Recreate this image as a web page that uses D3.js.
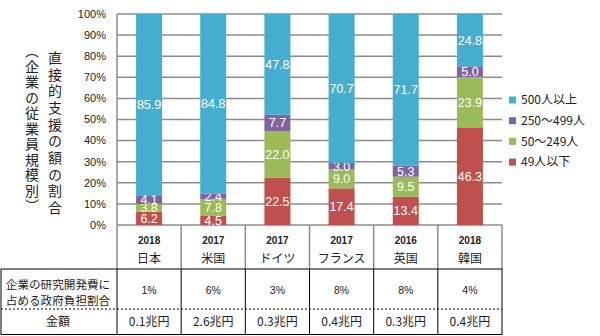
<!DOCTYPE html>
<html><head><meta charset="utf-8">
<script src="https://cdn.jsdelivr.net/npm/d3@7"></script>
<style>body{margin:0;background:#fff} svg{display:block}</style>
</head><body><svg id="c" width="600" height="336"></svg>
<script>
const countries = ["日本","米国","ドイツ","フランス","英国","韓国"];
const years = ["2018","2017","2017","2017","2016","2018"];
const seriesNames = ["49人以下","50～249人","250～499人","500人以上"];
const s49 = [6.2,4.5,22.5,17.4,13.4,46.3];
const s50 = [3.8,7.8,22.0,9.0,9.5,23.9];
const s250 = [4.1,2.4,7.7,3.0,5.3,5.0];
const s500 = [85.9,84.8,47.8,70.7,71.7,24.8];
const govShare = ["1%","6%","3%","8%","8%","4%"];
const amounts = ["0.1兆円","2.6兆円","0.3兆円","0.4兆円","0.3兆円","0.4兆円"];
const yTicks = [0,10,20,30,40,50,60,70,80,90,100];
const colors = ["#C0504D","#9BBB59","#8064A2","#45AED0"];

const svg = d3.select("#c");
const L = 117, R = 502, T = 14, B = 225;
const x = d3.scaleBand().domain(countries).range([L, R]).paddingInner(0.595).paddingOuter(0.2975);
const y = d3.scaleLinear().domain([0, 1]).range([B, T]);
const jp = "'Noto Sans CJK JP', sans-serif";
const lat = "'Liberation Sans', Arial, sans-serif";

const rows = countries.map((c, i) => ({c, v0: s49[i], v1: s50[i], v2: s250[i], v3: s500[i]}));
const stack = d3.stack().keys(["v0","v1","v2","v3"]).offset(d3.stackOffsetExpand);
const layers = stack(rows);

// gridlines
svg.append("g").selectAll("line").data(yTicks).join("line")
  .attr("x1", L).attr("x2", R)
  .attr("y1", d => y(d/100)).attr("y2", d => y(d/100))
  .attr("stroke", "#8c8c8c").attr("stroke-width", 1.5);

// tick labels
svg.append("g").selectAll("text").data(yTicks).join("text")
  .attr("x", 106).attr("y", d => y(d/100)).attr("dy", "0.35em")
  .attr("text-anchor", "end").attr("font-family", lat).attr("font-size", 11)
  .attr("fill", "#222").text(d => d + "%");

// bars
const bw = 26;
layers.forEach((layer, k) => {
  const g = svg.append("g");
  g.selectAll("rect").data(layer).join("rect")
    .attr("x", d => x(d.data.c) + x.bandwidth()/2 - bw/2)
    .attr("width", bw)
    .attr("y", d => y(d[1]))
    .attr("height", d => y(d[0]) - y(d[1]))
    .attr("fill", colors[k]);
  g.selectAll("text").data(layer).join("text")
    .attr("x", d => x(d.data.c) + x.bandwidth()/2)
    .attr("y", d => (y(d[0]) + y(d[1]))/2).attr("dy", "0.36em")
    .attr("text-anchor", "middle").attr("font-family", lat).attr("font-size", 12.5)
    .attr("fill", "#fff")
    .text(d => d.data[layer.key].toFixed(1));
});

// left axis line
svg.append("line").attr("x1", L).attr("x2", L).attr("y1", T).attr("y2", 269)
  .attr("stroke", "#8c8c8c").attr("stroke-width", 1.5);

// category separators
const bounds = countries.map(c => x(c) - x.step()*x.paddingInner()/2 ).concat([R]);
svg.append("g").selectAll("line").data(bounds.slice(1)).join("line")
  .attr("x1", d => d).attr("x2", d => d).attr("y1", B).attr("y2", 269)
  .attr("stroke", "#8c8c8c").attr("stroke-width", 1.5);

// category labels
svg.append("g").selectAll("text").data(years).join("text")
  .attr("x", (d, i) => x(countries[i]) + x.bandwidth()/2).attr("y", 240).attr("dy", "0.35em")
  .attr("text-anchor", "middle").attr("font-family", lat).attr("font-weight", "bold")
  .attr("font-size", 10).attr("fill", "#222").text(d => d);
svg.append("g").selectAll("text").data(countries).join("text")
  .attr("x", d => x(d) + x.bandwidth()/2).attr("y", 259).attr("dy", "0.35em")
  .attr("text-anchor", "middle").attr("font-family", jp)
  .attr("font-size", 12).attr("fill", "#222").text(d => d);

// table
const tb = svg.append("g");
tb.append("rect").attr("x", 1).attr("y", 269).attr("width", R - 1).attr("height", 65.5)
  .attr("fill", "none").attr("stroke", "#000").attr("stroke-width", 1);
tb.append("line").attr("x1", 1).attr("x2", R).attr("y1", 309).attr("y2", 309)
  .attr("stroke", "#000").attr("stroke-dasharray", "2,2");
tb.selectAll("line.v").data([L].concat(bounds.slice(1, 6))).join("line").attr("class","v")
  .attr("x1", d => d).attr("x2", d => d).attr("y1", 269).attr("y2", 334.5)
  .attr("stroke", "#000").attr("stroke-width", 1);
tb.append("text").attr("x", 58).attr("y", 285).attr("dy", "0.35em").attr("text-anchor", "middle")
  .attr("font-family", jp).attr("font-size", 11.6).attr("fill", "#222").text("企業の研究開発費に");
tb.append("text").attr("x", 58).attr("y", 301).attr("dy", "0.35em").attr("text-anchor", "middle")
  .attr("font-family", jp).attr("font-size", 11.6).attr("fill", "#222").text("占める政府負担割合");
tb.append("text").attr("x", 58).attr("y", 322).attr("dy", "0.35em").attr("text-anchor", "middle")
  .attr("font-family", jp).attr("font-size", 12).attr("fill", "#222").text("金額");
tb.selectAll("text.g").data(govShare).join("text").attr("class","g")
  .attr("x", (d, i) => x(countries[i]) + x.bandwidth()/2).attr("y", 290).attr("dy", "0.35em")
  .attr("text-anchor", "middle").attr("font-family", lat).attr("font-size", 10.5)
  .attr("fill", "#222").text(d => d);
tb.selectAll("text.a").data(amounts).join("text").attr("class","a")
  .attr("x", (d, i) => x(countries[i]) + x.bandwidth()/2).attr("y", 322).attr("dy", "0.35em")
  .attr("text-anchor", "middle").attr("font-family", jp).attr("font-size", 12)
  .attr("fill", "#222").text(d => d);

// y-axis title (vertical)
svg.append("text").attr("x", 55).attr("y", 134).attr("text-anchor", "middle")
  .style("writing-mode", "vertical-rl").style("letter-spacing", "2.7px")
  .attr("font-family", jp).attr("font-size", 14).attr("fill", "#222")
  .text("直接的支援の額の割合");
svg.append("text").attr("x", 32).attr("y", 129).attr("text-anchor", "middle")
  .style("writing-mode", "vertical-rl").style("letter-spacing", "1.5px")
  .attr("font-family", jp).attr("font-size", 14).attr("fill", "#222")
  .text("（企業の従業員規模別）");

// legend
const legOrder = [3,2,1,0];
const lg = svg.append("g").selectAll("g").data(legOrder).join("g")
  .attr("transform", (d, i) => `translate(509, ${100 + i*20.7})`);
lg.append("rect").attr("x", 0).attr("y", -3.5).attr("width", 7).attr("height", 7)
  .attr("fill", d => colors[d]);
lg.append("text").attr("x", 12).attr("y", 0).attr("dy", "0.36em")
  .attr("font-family", jp).attr("font-size", 12).attr("fill", "#222")
  .text(d => seriesNames[d]);
</script></body></html>
